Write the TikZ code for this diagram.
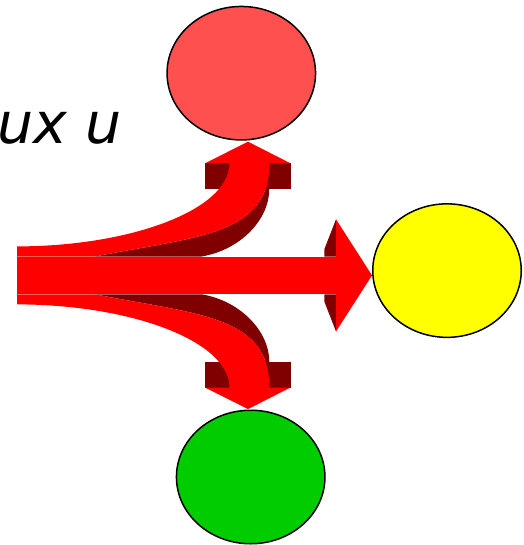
\documentclass[tikz,border=0pt]{standalone}
\usepackage{fontspec}
\newfontfamily\labelfont{DejaVu Sans}
\usetikzlibrary{shapes.geometric}
\definecolor{topfill}{HTML}{FF5050}
\definecolor{arrowred}{HTML}{FF0000}
\definecolor{darkside}{HTML}{800000}
\definecolor{rightfill}{HTML}{FFFF00}
\definecolor{bottomfill}{HTML}{00CC00}
\tikzset{
  blob/.style={ellipse, draw=black, line width=1.5pt, minimum width=148.5pt, minimum height=133.5pt, inner sep=0pt},
  front/.style={fill=arrowred},
  side/.style={fill=darkside}
}
\newcommand{\branchside}{%
  \fill[side] (205,163.3) rectangle (290.5,189);
  \fill[side] (95,256.5) .. controls (200,236) and (269.3,235) .. (269.3,163.3)
      -- (269.3,189) .. controls (269.3,220) and (240,250) .. (201.7,256.5) -- cycle;
}
\newcommand{\branchfront}{%
  \fill[front] (17,256.5) -- (17,246.4) .. controls (130,246.4) and (229.5,210) .. (229.5,163.3)
      -- (205,163.3) -- (248,141.7) -- (290.5,163.3) -- (269.3,163.3)
      .. controls (269.3,235) and (200,236) .. (95,256.5) -- cycle;
}
\begin{document}
\begin{tikzpicture}[x=1pt,y=-1pt]
\useasboundingbox (0,0) rectangle (523,545);
% text
\node[anchor=base west, inner sep=0pt, font={\labelfont\itshape\fontsize{57}{60}\selectfont}] (label) at (-3,144) {ux u};
% 3D sides
\branchside
\begin{scope}[shift={(0,550.8)}, yscale=-1]
  \branchside
\end{scope}
\fill[side] (324.3,249.3) -- (336,219.3) -- (336,256.5) -- (324.3,256.5) -- cycle;
\fill[side] (324.3,294.3) -- (336,294.3) -- (336,331.5) -- (324.3,301.5) -- cycle;
% front faces
\branchfront
\begin{scope}[shift={(0,550.8)}, yscale=-1]
  \branchfront
\end{scope}
\fill[front] (17,256.5) rectangle (336.2,294.3);
\fill[front] (336,219.3) -- (372,275.4) -- (336,331.5) -- cycle;
% targets
\node[blob, fill=topfill] (top) at (241.3,73.2) {};
\node[blob, fill=rightfill] (right) at (447,270.6) {};
\node[blob, fill=bottomfill] (bottom) at (250.7,477) {};
\end{tikzpicture}
\end{document}
